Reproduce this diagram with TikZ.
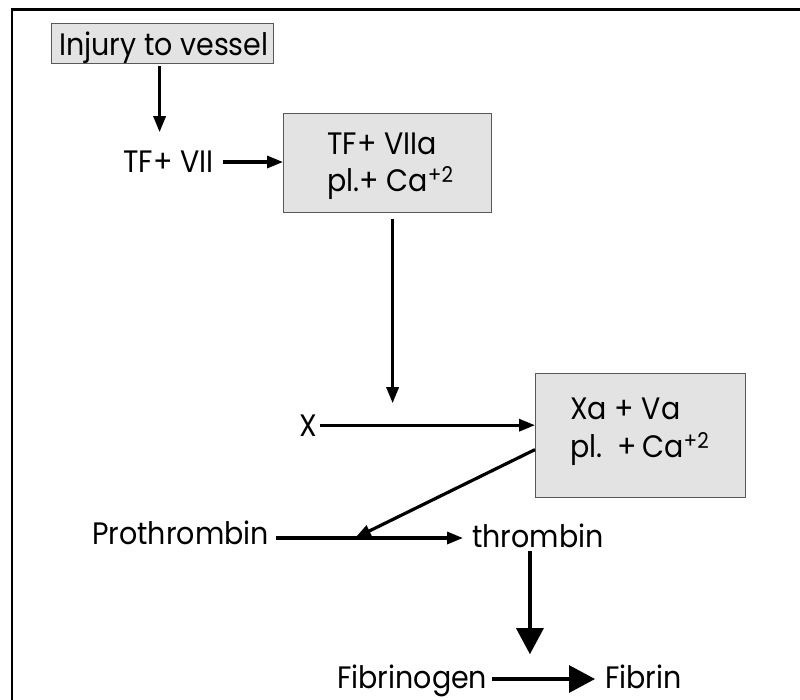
\documentclass[tikz,border=0pt]{standalone}
\usepackage{fontspec}
\setmainfont{Poppins}[FakeStretch=0.92]
\usetikzlibrary{arrows.meta,calc}
\definecolor{boxfill}{gray}{0.89}
\definecolor{boxrule}{gray}{0.35}
\tikzset{flow/.style={line width=3.2pt,-{Triangle[length=16pt,width=12pt]}},
         bigflow/.style={line width=3.2pt,-{Triangle[length=26pt,width=27pt]}},
         stepbox/.style={draw=boxrule,fill=boxfill,line width=1.2pt,inner sep=0pt,anchor=north west},
         term/.style={inner sep=0pt,anchor=base west},
         boxtext/.style={inner sep=0pt,anchor=north west,align=left}}

\begin{document}
\begin{tikzpicture}[x=1pt,y=-1pt,font=\fontsize{31}{37}\selectfont]
  \useasboundingbox (0,0) rectangle (800,699);
  % open frame, cut off at the right and bottom edges
  \draw[line width=2.8pt] (12,702) -- (12,9.5) -- (803,9.5);
  \node[stepbox,minimum width=222pt,minimum height=40pt] (injury) at (51,23) {};
  \node[term] (injurytxt) at (59,55) {Injury to vessel};
  \node[term] (tfvii) at (123,172) {TF+ VII};
  \node[stepbox,minimum width=208pt,minimum height=99pt] (tfbox) at (283,113) {};
  \node[boxtext] (tftext) at (327,133) {TF+ VIIa\\pl.+ Ca\textsuperscript{+2}};
  \node[term] (xin) at (299,436) {X};
  \node[stepbox,minimum width=210pt,minimum height=124pt] (xabox) at (535,373) {};
  \node[boxtext,font=\fontsize{31}{38}\selectfont] (xatext) at (570,398) {Xa + Va\\pl.\ \ +\,Ca\textsuperscript{+2}};
  \node[term] (prothr) at (92,544) {Prothrombin};
  \node[term] (thromb) at (472,547) {thrombin};
  \node[term] (fibgen) at (337,688) {Fibrinogen};
  \node[term] (fibrin) at (605,688) {Fibrin};
  \coordinate (join) at (355,538);

  \draw[flow] ($(injury.south)+(-3,2)$) -- ($(injury.south |- tfvii.north)+(-3,-18)$);
  \draw[flow] ($(tfvii.base east)+(9,-10)$) -- ($(tfvii.base east -| tfbox.west)+(0,-10)$);
  \draw[flow] ($(tfbox.south)+(5,6)$) -- ($(tfbox.south |- xin.north)+(5,-11)$);
  \draw[flow] ($(xin.east)+(3,0)$) -- (xin.east -| xabox.west);
  \draw[flow] ($(xabox.west)+(0,14)$) -- (join);
  \draw[flow] ($(prothr.base east)+(7,-6)$) -- ($(thromb.base west)+(-9,-9)$);
  \draw[bigflow] ($(thromb.south)+(-8,4)$) -- ($(thromb.south |- fibgen.north)+(-8,-10)$);
  \draw[bigflow] ($(fibgen.base east)+(5,-9)$) -- ($(fibrin.base west)+(-10,-9)$);
\end{tikzpicture}
\end{document}
